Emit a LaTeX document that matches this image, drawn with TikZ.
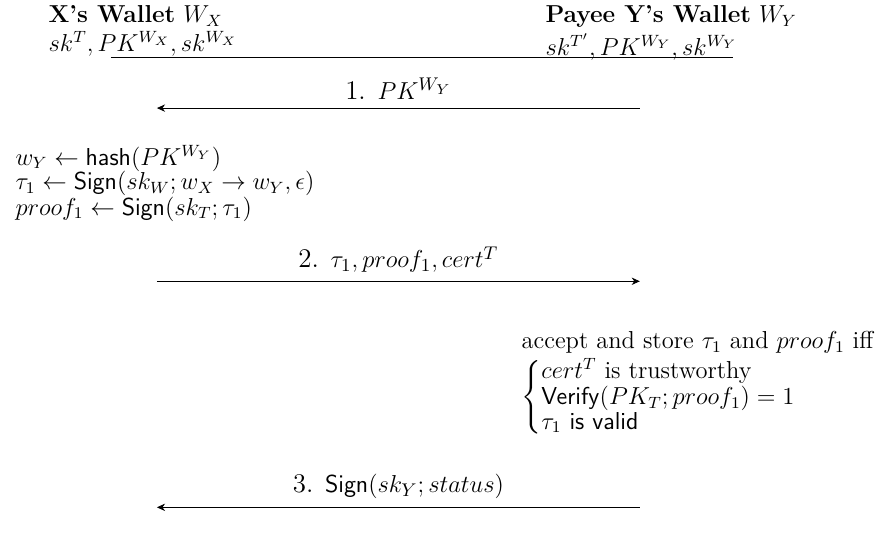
\documentclass[tikz,border=0pt]{standalone}
\usepackage{amsmath, amssymb}
\usepackage{tikz}
\usetikzlibrary{positioning, arrows.meta}

\begin{document}
\begin{tikzpicture}[
    every node/.append style={font=\fontsize{12}{12}\selectfont},
    wallet/.style={anchor=north west, align=left, inner sep=0pt},
    calcbox/.style={anchor=north west, align=left, inner sep=0pt},
    msg/.style={-{Stealth[length=4pt, width=3.6pt]}},
    msglabel/.style={above=4pt, inner sep=0pt, font=\fontsize{13.2}{14}\selectfont}
  ]
  \useasboundingbox (0,0) rectangle (15.16,-9.21);

  % the two wallets
  \node[wallet] (wx) at (0.83, -0.09)
        {\textbf{X's Wallet} $W_X$\\[2pt] $sk^T, PK^{W_X}, sk^{W_X}$};
  \node[wallet] (wy) at (9.38, -0.09)
        {\textbf{Payee Y's Wallet} $W_Y$\\[2pt] $sk^{T'}, PK^{W_Y}, sk^{W_Y}$};
  \coordinate (ruleL) at (1.91, -0.98);
  \coordinate (ruleR) at (12.61, -0.98);
  \draw (ruleL) -- (ruleR);

  % message ends
  \coordinate (x1) at (2.70, -1.86);
  \coordinate (y1) at (11.01, -1.86);
  \coordinate (x2) at (2.70, -4.84);
  \coordinate (y2) at (11.01, -4.84);
  \coordinate (x3) at (2.70, -8.73);
  \coordinate (y3) at (11.01, -8.73);

  \draw[msg] (y1) -- node[msglabel] (m1) {1. $PK^{W_Y}$} (x1);

  \node[calcbox] (tx) at (0.26, -2.49)
        {$w_Y \leftarrow \mathsf{hash}(PK^{W_Y})$\\
         $\tau_1 \leftarrow \mathsf{Sign}(sk_W; w_X \rightarrow w_Y, \epsilon)$\\[0.5pt]
         $proof_1 \leftarrow \mathsf{Sign}(sk_T; \tau_1)$};

  \draw[msg] (x2) -- node[msglabel] (m2) {2. $\tau_1, proof_1, cert^T$} (y2);

  \node[calcbox] (chk) at (8.97, -5.70)
        {accept and store $\tau_1$ and $proof_1$ iff\\[1.5pt]
         $\left\{\begin{array}{@{}l@{}}
            cert^T \text{ is trustworthy}\\
            \mathsf{Verify}(PK_T; proof_1) = 1\\
            \tau_1 \text{ \textsf{is valid}}
          \end{array}\right.$};

  \draw[msg] (y3) -- node[msglabel] (m3) {3. $\mathsf{Sign}(sk_Y; status)$} (x3);
\end{tikzpicture}
\end{document}
